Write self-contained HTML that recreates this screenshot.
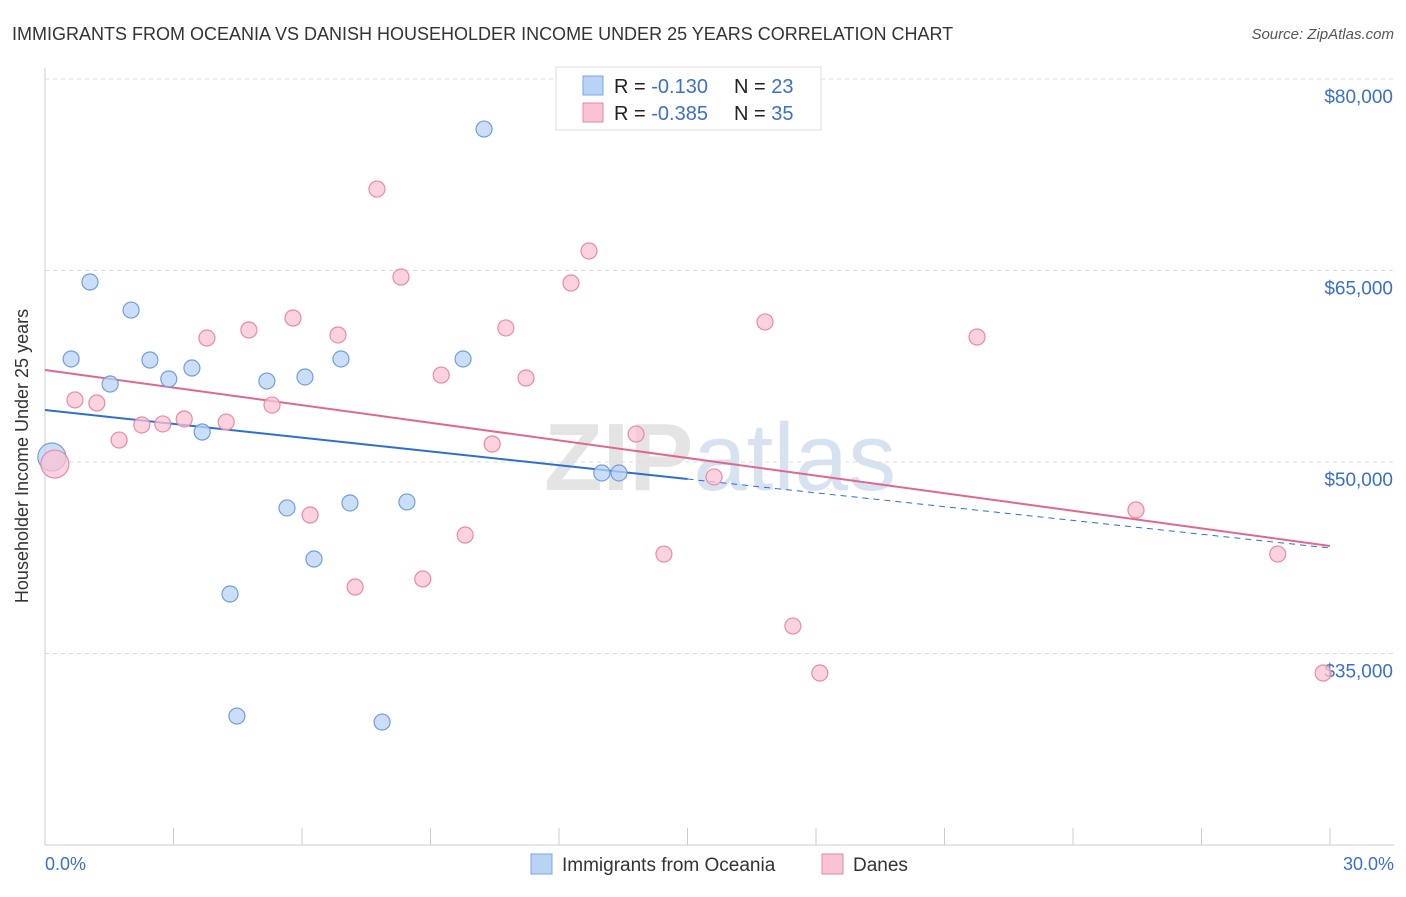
<!DOCTYPE html>
<html><head><meta charset="utf-8"><style>
body{margin:0;background:#fff;font-family:"Liberation Sans",sans-serif}
svg text{font-family:"Liberation Sans",sans-serif}
</style></head><body>
<svg id="c" width="1406" height="892" xmlns="http://www.w3.org/2000/svg">
<text x="12" y="40" font-size="18" fill="#333">IMMIGRANTS FROM OCEANIA VS DANISH HOUSEHOLDER INCOME UNDER 25 YEARS CORRELATION CHART</text>
<text x="1394" y="39" font-size="15" fill="#555" font-style="italic" text-anchor="end">Source: ZipAtlas.com</text>
<text x="720" y="490" font-size="96" fill="#e4e4e4" text-anchor="middle" font-weight="bold">ZIP<tspan font-weight="normal" fill="#d6e2f0">atlas</tspan></text>
<g id="grid"></g>
<line x1="45" y1="68" x2="45" y2="845" stroke="#ccc"/>
<line x1="45" y1="845" x2="1394" y2="845" stroke="#ccc"/>
<text x="28" y="456" font-size="18" fill="#333" text-anchor="middle" transform="rotate(-90 28 456)">Householder Income Under 25 years</text>
<text x="45" y="870" font-size="18" fill="#3a70c8">0.0%</text>
<text x="1394" y="870" font-size="18" fill="#3a70c8" text-anchor="end">30.0%</text>
<g id="lines"></g>
<g id="pts"></g>
<g>
<rect x="556" y="67" width="265" height="63" fill="#fff" stroke="#ddd"/>
<rect x="583" y="76" width="20" height="19" fill="#b9d3f5" stroke="#7aa7e0"/>
<rect x="583" y="103" width="20" height="19" fill="#f9c3d3" stroke="#e88aa6"/>
<text x="614" y="93" font-size="20" fill="#222">R = <tspan fill="#3a70c8">-0.130</tspan><tspan x="734">N = </tspan><tspan fill="#3a70c8">23</tspan></text>
<text x="614" y="120" font-size="20" fill="#222">R = <tspan fill="#3a70c8">-0.385</tspan><tspan x="734">N = </tspan><tspan fill="#3a70c8">35</tspan></text>
</g>
<g>
<rect x="531" y="854" width="21" height="20" fill="#b9d3f5" stroke="#7aa7e0"/>
<text x="562" y="871" font-size="19" fill="#333">Immigrants from Oceania</text>
<rect x="822" y="854" width="21" height="20" fill="#f9c3d3" stroke="#e88aa6"/>
<text x="853" y="871" font-size="19" fill="#333">Danes</text>
</g>
</svg>
<script>
const yTicks=[80000,65000,50000,35000];
const yTickLabels=["$80,000","$65,000","$50,000","$35,000"];
const xTicks=[0,3,6,9,12,15,18,21,24,27,30];
const blueX=[0.16,1.05,2.01,0.61,1.52,2.45,2.89,3.43,3.67,5.18,6.07,6.91,9.76,10.25,5.65,7.12,8.45,6.28,4.32,4.48,7.87,13.0,13.4];
const blueY=[50390,64100,61900,58070,56110,57990,56500,57360,52350,56340,56660,58070,58070,76080,46400,46790,46870,42400,39660,30100,29630,49140,49140];
const pinkX=[0.23,0.70,1.21,1.73,2.26,2.75,3.25,3.78,4.23,4.76,5.30,5.79,6.19,6.84,7.24,7.75,8.31,8.82,9.25,9.81,10.44,10.76,11.23,12.28,12.70,13.80,14.45,15.62,16.81,17.46,18.09,21.76,25.47,28.78,29.84];
const pinkY=[49840,54860,54620,51720,52900,52980,53370,59710,53130,60340,54460,61280,45850,59950,40210,71380,64490,40840,56810,44280,51410,60500,56580,64020,66530,52190,42790,48830,60970,37150,33470,59790,46240,42790,33470];
const blueTrend=[54070,43260];
const pinkTrend=[57205,43420];
const blueSolidEnd=15;
const NS="http://www.w3.org/2000/svg";
const X=v=>45+v/30*1285;
const Y=v=>79+(80000-v)/15000*191.5;
function mk(t,a,p){const e=document.createElementNS(NS,t);for(const k in a)e.setAttribute(k,a[k]);p.appendChild(e);return e;}
const grid=document.getElementById('grid');
yTicks.forEach((v,i)=>{
 const l=mk('line',{x1:45,x2:1394,y1:Y(v),y2:Y(v),stroke:'#ddd','stroke-dasharray':'4,4'},grid);
 
 
 const t=mk('text',{x:1393,y:Y(v)+24,'font-size':19,fill:'#3a70c8','text-anchor':'end'},grid);
 t.textContent=yTickLabels[i];
 
 
});
xTicks.forEach(v=>{
 const l=mk('line',{x1:X(v),x2:X(v),y1:828,y2:845,stroke:'#ccc'},grid);
 
 
});
const lines=document.getElementById('lines');
const tr=(a,x)=>a[0]+(a[1]-a[0])*x/30;
let l=mk('line',{x1:X(0),y1:Y(tr(blueTrend,0)),x2:X(blueSolidEnd),y2:Y(tr(blueTrend,blueSolidEnd)),stroke:'#2b6fd6','stroke-width':2},lines);


l=mk('line',{x1:X(blueSolidEnd),y1:Y(tr(blueTrend,blueSolidEnd)),x2:X(30),y2:Y(tr(blueTrend,30)),stroke:'#2b6fd6','stroke-width':1,'stroke-dasharray':'6,5'},lines);


l=mk('line',{x1:X(0),y1:Y(tr(pinkTrend,0)),x2:X(30),y2:Y(tr(pinkTrend,30)),stroke:'#e0678f','stroke-width':2},lines);


const pts=document.getElementById('pts');
function draw(xs,ys,fill,stroke,name){
 xs.forEach((x,i)=>{
  const c=mk('circle',{cx:X(x),cy:Y(ys[i]),r:i==0?14:8,fill:fill,'fill-opacity':0.75,stroke:stroke,'stroke-width':1.2},pts);
  
  
 });
}
draw(blueX,blueY,'#b9d3f5','#6f9fdc','oceania-point');
draw(pinkX,pinkY,'#f9c3d3','#e88aa6','danes-point');
</script>
</body></html>
